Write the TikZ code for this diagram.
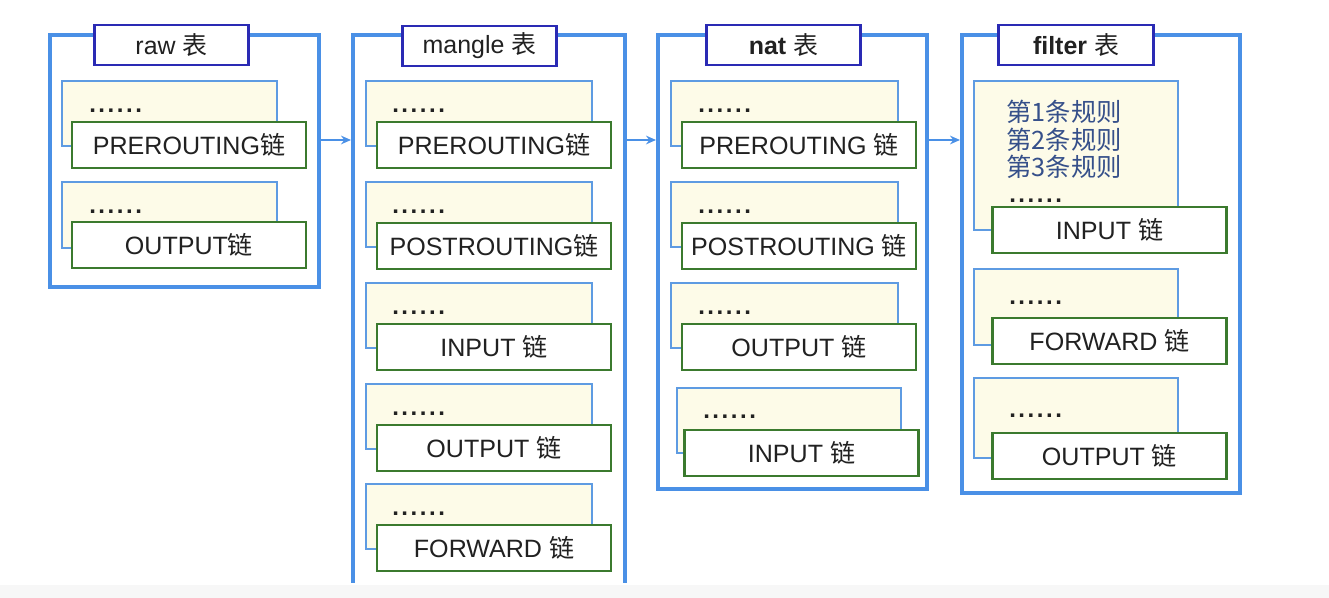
\documentclass[tikz,border=0pt]{standalone}
\usepackage{fontspec}
\setmainfont{Liberation Sans}
\newfontfamily\cjk{Noto Sans CJK SC}
\usetikzlibrary{arrows.meta}
\definecolor{TableBlue}{HTML}{4A90E6}
\definecolor{TitleNavy}{HTML}{2A2AB4}
\definecolor{RuleBlue}{HTML}{5E9BE2}
\definecolor{RuleCream}{HTML}{FDFBE8}
\definecolor{ChainGreen}{HTML}{3B7A2E}
\definecolor{RuleText}{HTML}{36508A}

\newcommand{\lian}{{\cjk 链}}
\newcommand{\biao}{{\cjk 表}}
\newcommand{\dotrow}{.\kern1.9pt.\kern1.9pt.\kern1.9pt.\kern1.9pt.\kern1.9pt.}

\tikzset{
  tablebox/.style={TableBlue, line width=2.5pt},
  titlebox/.style={draw=TitleNavy, line width=2.1pt, fill=white, minimum width=116pt, minimum height=30pt, inner sep=0pt, font=\fontsize{18.7}{20}\selectfont, text=black!87},
  rulebox/.style={draw=RuleBlue, line width=1.8pt, fill=RuleCream},
  ruledots/.style={anchor=west, inner sep=0pt, font=\fontsize{18}{20}\selectfont\bfseries, text=black!87},
  chainbox/.style={draw=ChainGreen, line width=2.1pt, fill=white, minimum width=175.5pt, minimum height=34.5pt, inner sep=0pt, font=\fontsize{18.8}{20}\selectfont, text=black!87},
  flow/.style={-{Stealth[length=7.5pt,width=6.5pt]}, TableBlue, line width=1.5pt}
}

\begin{document}
\begin{tikzpicture}[x=0.75pt, y=-0.75pt]
    \useasboundingbox (0,0) rectangle (1329,598);
    % grey strip at the bottom
    \fill[black!3] (0,585) rectangle (1329,598);

    % ========== raw table ==========
    \draw[tablebox] (50,35) rectangle (319,287);
    \draw[rulebox] (62,81) rectangle (277,146);
    \node[ruledots] (rawD1) at (89,111) {\dotrow};
    \node[chainbox] (rawPre) at (189,145) {PREROUTING\lian};
    \draw[rulebox] (62,182) rectangle (277,248);
    \node[ruledots] (rawD2) at (89,212) {\dotrow};
    \node[chainbox] (rawOutput) at (189,245) {OUTPUT\lian};
    \node[titlebox] (rawTitle) at (171.5,45) {raw \biao};

    % ========== mangle table ==========
    \draw[tablebox] (353,583) -- (353,35) -- (625,35) -- (625,583);
    \draw[rulebox] (366,81) rectangle (592,146);
    \node[ruledots] (mangleD1) at (392,111) {\dotrow};
    \node[chainbox] (manglePre) at (494,145) {PREROUTING\lian};
    \draw[rulebox] (366,182) rectangle (592,247);
    \node[ruledots] (mangleD2) at (392,212) {\dotrow};
    \node[chainbox] (manglePost) at (494,246) {POSTROUTING\lian};
    \draw[rulebox] (366,283) rectangle (592,348);
    \node[ruledots] (mangleD3) at (392,313) {\dotrow};
    \node[chainbox] (mangleInput) at (494,347) {INPUT \lian};
    \draw[rulebox] (366,384) rectangle (592,449);
    \node[ruledots] (mangleD4) at (392,414) {\dotrow};
    \node[chainbox] (mangleOutput) at (494,448) {OUTPUT \lian};
    \draw[rulebox] (366,484) rectangle (592,549);
    \node[ruledots] (mangleD5) at (392,514) {\dotrow};
    \node[chainbox] (mangleFwd) at (494,548) {FORWARD \lian};
    \node[titlebox] (mangleTitle) at (479.5,46) {mangle \biao};

    % ========== nat table ==========
    \draw[tablebox] (658,35) rectangle (927,489);
    \draw[rulebox] (671,81) rectangle (898,146);
    \node[ruledots] (natD1) at (698,111) {\dotrow};
    \node[chainbox] (natPre) at (799,145) {PREROUTING \lian};
    \draw[rulebox] (671,182) rectangle (898,247);
    \node[ruledots] (natD2) at (698,212) {\dotrow};
    \node[chainbox] (natPost) at (799,246) {POSTROUTING \lian};
    \draw[rulebox] (671,283) rectangle (898,348);
    \node[ruledots] (natD3) at (698,313) {\dotrow};
    \node[chainbox] (natOutput) at (799,347) {OUTPUT \lian};
    \draw[rulebox] (677,388) rectangle (901,453);
    \node[ruledots] (natD4) at (703,417) {\dotrow};
    \node[chainbox] (natInput) at (801.5,453) {INPUT \lian};
    \node[titlebox] (natTitle) at (783.5,45) {\textbf{nat} \biao};

    % ========== filter table ==========
    \draw[tablebox] (962,35) rectangle (1240,493);
    \draw[rulebox] (974,81) rectangle (1178,230);
    \node[anchor=north west, inner sep=0pt, align=left, text=RuleText,
          font={\cjk\fontsize{19}{20.6}\selectfont}] (filterRules) at (1006,100)
          {第1条规则\\第2条规则\\第3条规则};
    \node[ruledots] (filterD1) at (1009,201) {\dotrow};
    \node[chainbox] (filterInput) at (1109.5,230) {INPUT \lian};
    \draw[rulebox] (974,269) rectangle (1178,345);
    \node[ruledots] (filterD2) at (1009,303) {\dotrow};
    \node[chainbox] (filterFwd) at (1109.5,341) {FORWARD \lian};
    \draw[rulebox] (974,378) rectangle (1178,458);
    \node[ruledots] (filterD3) at (1009,416) {\dotrow};
    \node[chainbox] (filterOutput) at (1109.5,456) {OUTPUT \lian};
    \node[titlebox] (filterTitle) at (1076,45) {\textbf{filter} \biao};

    % ========== arrows between tables ==========
    \coordinate (rawEnd) at (319,140);
    \coordinate (mangleIn) at (351,140);
    \coordinate (mangleEnd) at (625,140);
    \coordinate (natIn) at (656,140);
    \coordinate (natEnd) at (927,140);
    \coordinate (filterIn) at (960,140);
    \draw[flow] (rawEnd) -- (mangleIn);
    \draw[flow] (mangleEnd) -- (natIn);
    \draw[flow] (natEnd) -- (filterIn);

\end{tikzpicture}
\end{document}
